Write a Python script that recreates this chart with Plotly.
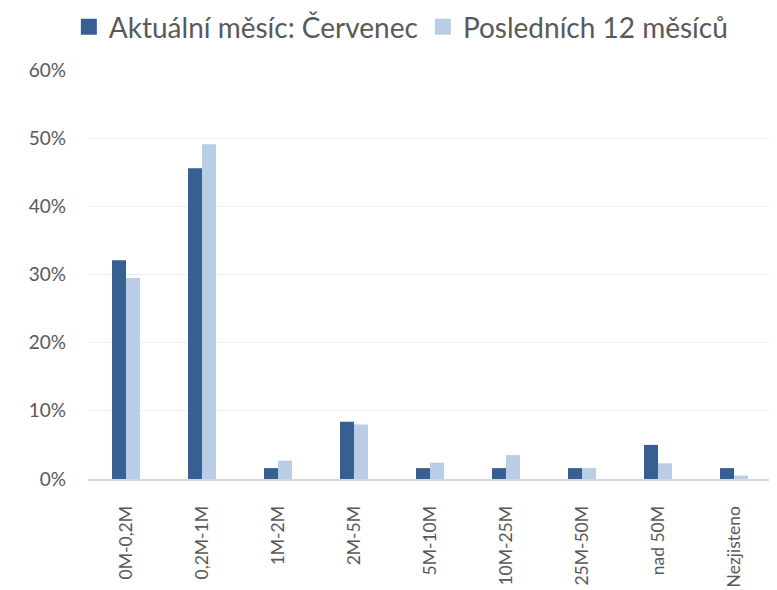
import plotly.graph_objects as go

categories = ["0M-0,2M", "0,2M-1M", "1M-2M", "2M-5M", "5M-10M", "10M-25M", "25M-50M", "nad 50M", "Nezjisteno"]
aktualni = [0.321, 0.456, 0.016, 0.084, 0.016, 0.016, 0.016, 0.050, 0.016]
poslednich = [0.295, 0.491, 0.027, 0.080, 0.024, 0.035, 0.016, 0.023, 0.005]
series_names = ["Aktuální měsíc: Červenec", "Posledních 12 měsíců"]
series_colors = ["#375F91", "#B9CDE5"]
y_ticks = [0, 0.1, 0.2, 0.3, 0.4, 0.5, 0.6]
y_tick_labels = ["0%", "10%", "20%", "30%", "40%", "50%", "60%"]

font_family = "Lato, Open Sans, sans-serif"

fig = go.Figure()
for vals, name, col in [(aktualni, series_names[0], series_colors[0]),
                        (poslednich, series_names[1], series_colors[1])]:
    fig.add_trace(go.Bar(x=categories, y=vals, name=name, showlegend=False,
                         marker=dict(color=col, line=dict(width=0))))
# legend entries with larger square symbols
for name, col in zip(series_names, series_colors):
    fig.add_trace(go.Scatter(x=[None], y=[None], mode="markers", name=name,
                             marker=dict(symbol="square", size=20, color=col),
                             hoverinfo="skip"))

# page body adds an 8px offset; margins compensate for it
fig.update_layout(
    width=777, height=590,
    margin=dict(l=80, r=13, t=62, b=119, autoexpand=False),
    plot_bgcolor="white", paper_bgcolor="white",
    barmode="group", bargap=0.632, bargroupgap=0,
    font=dict(family=font_family, color="#595959", size=19),
    legend=dict(orientation="h", x=-0.028, y=1.105, xanchor="left", yanchor="middle",
                font=dict(size=28, color="#595959"), itemwidth=30,
                traceorder="normal"),
    xaxis=dict(tickangle=-90, showgrid=False, showline=True, linecolor="#d9d9d9",
               linewidth=2, ticks="", ticklabelstandoff=18,
               tickfont=dict(size=17.5, color="#595959")),
    yaxis=dict(range=[0, 0.6], tickvals=y_ticks, ticktext=y_tick_labels,
               showgrid=True, gridcolor="#efefef", gridwidth=1, zeroline=False,
               ticks="", ticklabelstandoff=21, tickfont=dict(size=19, color="#595959")),
)

fig.write_html("out.html")
